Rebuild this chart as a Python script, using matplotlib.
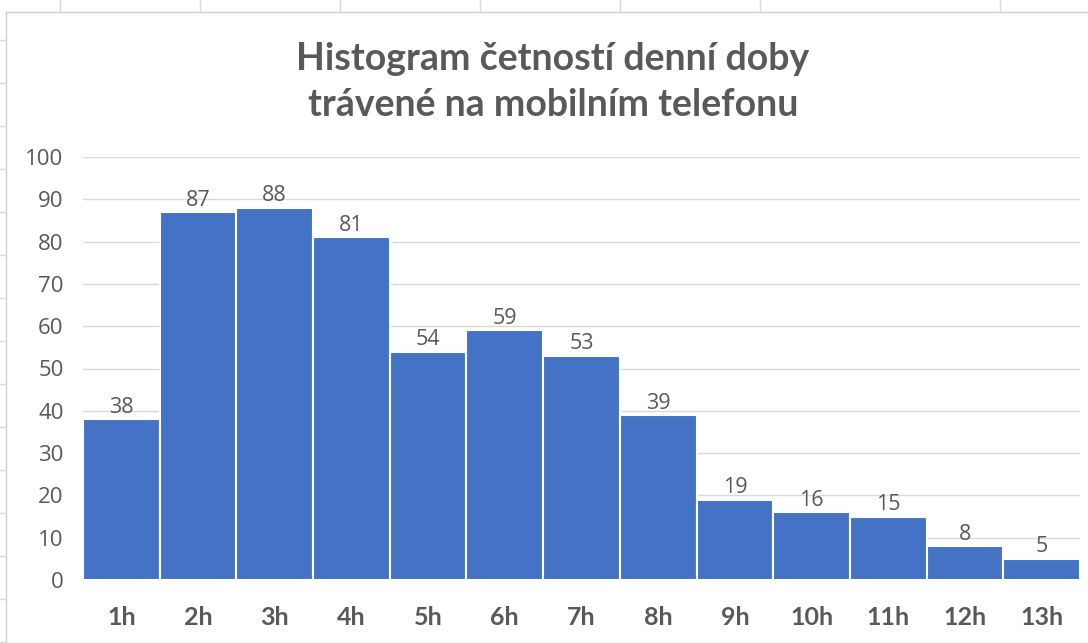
import matplotlib
matplotlib.use("Agg")
import matplotlib.pyplot as plt
from matplotlib.lines import Line2D

# data
hours = ["1h", "2h", "3h", "4h", "5h", "6h", "7h", "8h", "9h", "10h", "11h", "12h", "13h"]
counts = [38, 87, 88, 81, 54, 59, 53, 39, 19, 16, 15, 8, 5]
y_ticks = [0, 10, 20, 30, 40, 50, 60, 70, 80, 90, 100]

TEXT = "#595959"
BAR = "#4472C4"
GRID = "#D9D9D9"
NUM_FONT = ["Open Sans", "DejaVu Sans"]

plt.rcParams["font.family"] = ["Lato", "DejaVu Sans"]

W, H = 1088, 643
fig = plt.figure(figsize=(W / 100, H / 100), dpi=100)
fig.patch.set_facecolor("white")

# spreadsheet frame behind the chart
fig.add_artist(Line2D([6 / W, 1], [1 - 12 / H, 1 - 12 / H], color="#D0D0D0", lw=1))
fig.add_artist(Line2D([6 / W, 6 / W], [0, 1 - 12 / H], color="#D0D0D0", lw=1))
for x in [60, 200, 340, 480, 620, 760, 1000]:
    fig.add_artist(Line2D([x / W, x / W], [1 - 12 / H, 1], color="#D8D8D8", lw=1))
for y in range(40, H, 43):
    fig.add_artist(Line2D([0, 6 / W], [1 - y / H, 1 - y / H], color="#D8D8D8", lw=1))

ax = fig.add_axes([83 / W, 1 - 580 / H, (1080 - 83) / W, (580 - 157) / H])
x = list(range(len(hours)))
bars = ax.bar(x, counts, width=1.0, color=BAR, edgecolor="white", linewidth=1.5, zorder=3)

ax.set_xlim(-0.5, len(hours) - 0.5)
ax.set_ylim(0, 100)
ax.set_yticks(y_ticks)
ax.set_xticks(x)
ax.set_xticklabels(hours, fontsize=18, fontweight="bold", color=TEXT)
ax.set_yticklabels([str(t) for t in y_ticks], family=NUM_FONT, fontsize=16, color=TEXT)
ax.tick_params(axis="y", length=0, pad=14)
ax.tick_params(axis="x", length=0, pad=19)
ax.grid(axis="y", color=GRID, linewidth=1, zorder=0)
for s in ax.spines.values():
    s.set_visible(False)

for b, v in zip(bars, counts):
    ax.annotate(str(v), (b.get_x() + b.get_width() / 2, v), xytext=(0, 1),
                textcoords="offset points", ha="center", va="bottom",
                family=NUM_FONT, fontsize=15.5, color=TEXT)

fig.text(553 / W, 1 - 82 / H, "Histogram četností denní doby\ntrávené na mobilním telefonu",
         ha="center", va="center", fontsize=27, fontweight="bold", color=TEXT,
         linespacing=1.45)

fig.savefig("out.png", dpi=100)
